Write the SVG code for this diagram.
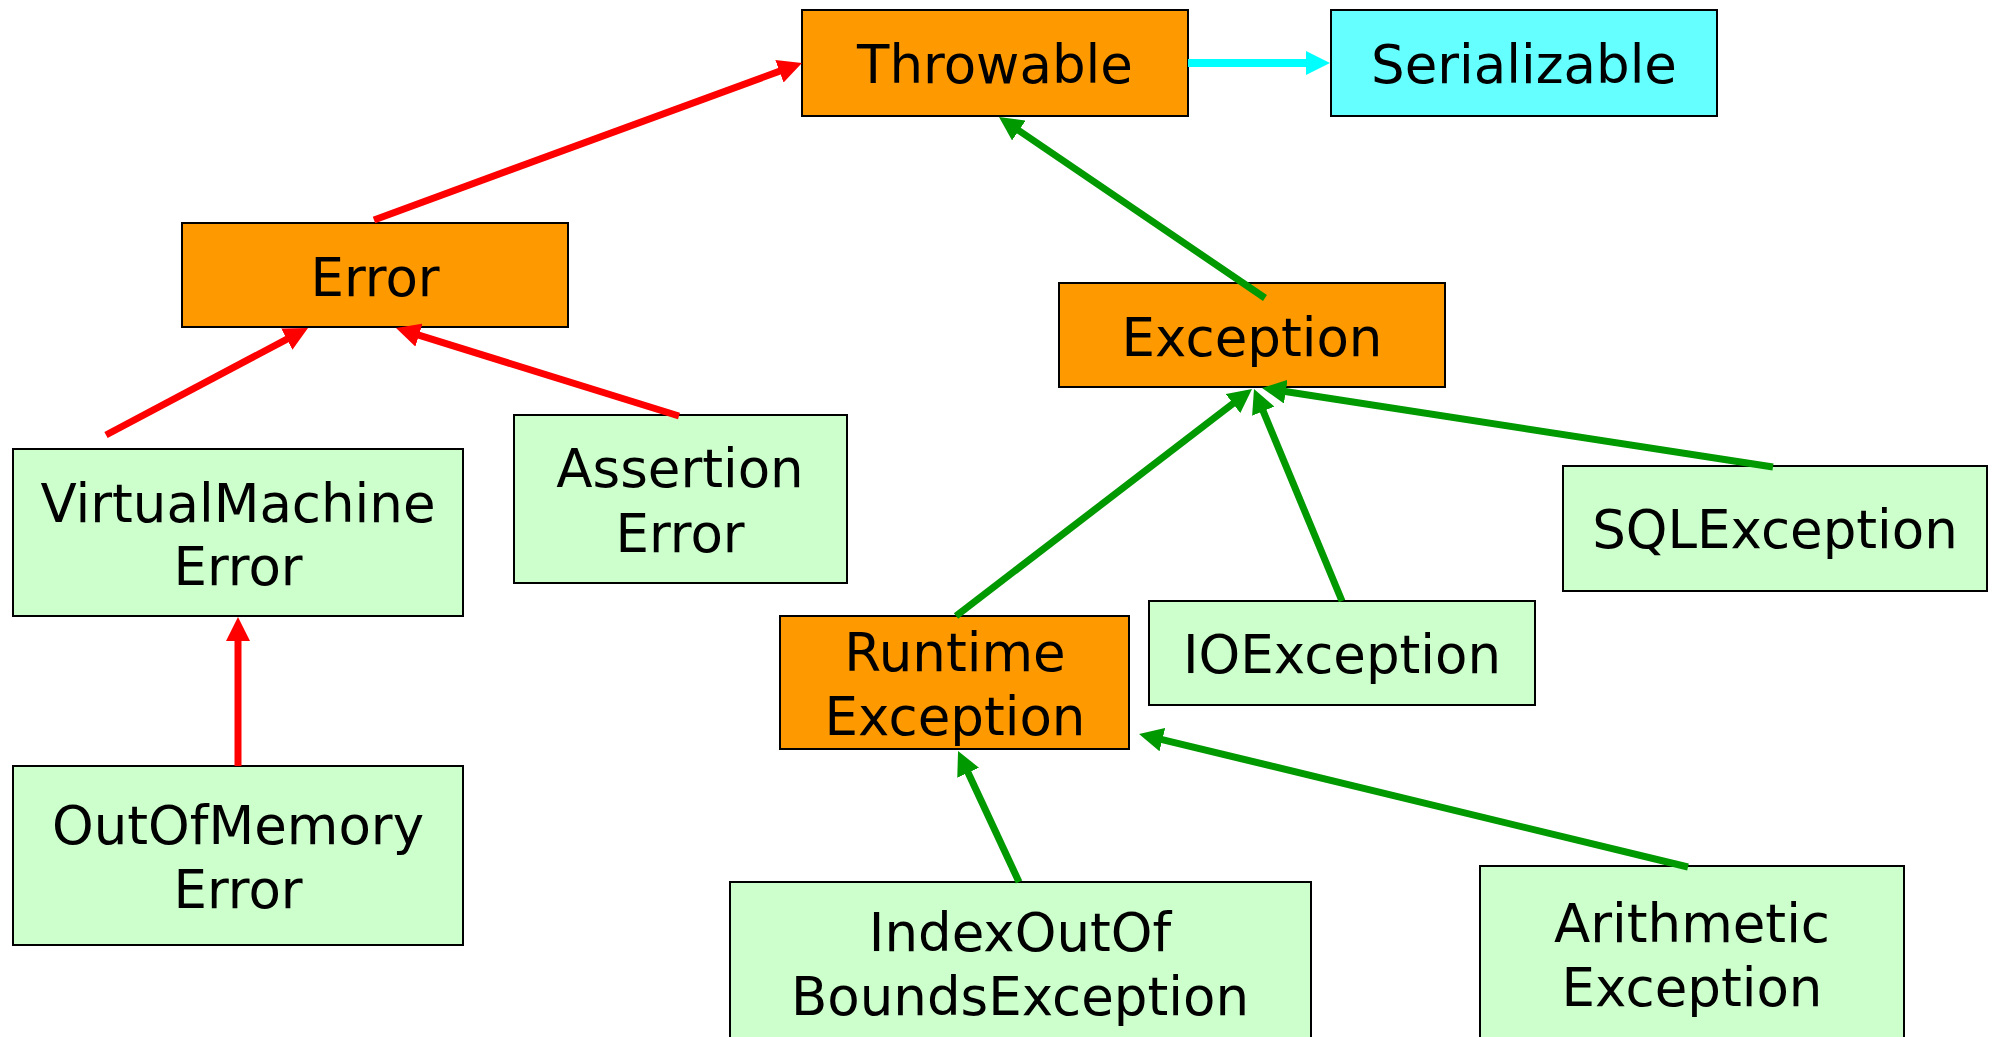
<svg xmlns="http://www.w3.org/2000/svg" width="1996" height="1037" viewBox="0 0 1996 1037">
<style>
.box{stroke:#000;stroke-width:2}
.o{fill:#FF9900}
.g{fill:#CCFFCC}
.c{fill:#66FFFF}
text{font-family:"DejaVu Sans","Verdana",sans-serif;font-size:53px;fill:#000;text-anchor:middle}
.red{stroke:#FF0000;stroke-width:7;fill:none}
.grn{stroke:#009900;stroke-width:7;fill:none}
.cyn{stroke:#00FFFF;stroke-width:8;fill:none}
</style>
<defs>
<marker id="hr" markerUnits="userSpaceOnUse" markerWidth="24" markerHeight="24" refX="12" refY="12" orient="auto" viewBox="0 0 24 24"><path d="M0,0 L24,12 L0,24 z" fill="#FF0000"/></marker>
<marker id="hg" markerUnits="userSpaceOnUse" markerWidth="24" markerHeight="24" refX="12" refY="12" orient="auto" viewBox="0 0 24 24"><path d="M0,0 L24,12 L0,24 z" fill="#009900"/></marker>
<marker id="hc" markerUnits="userSpaceOnUse" markerWidth="24" markerHeight="24" refX="12" refY="12" orient="auto" viewBox="0 0 24 24"><path d="M0,0 L24,12 L0,24 z" fill="#00FFFF"/></marker>
</defs>
<rect width="1996" height="1037" fill="#fff"/>
<g id="throwable"><rect class="box o" x="802" y="10" width="386" height="106"/><text x="995" y="83">Throwable</text></g>
<g id="serializable"><rect class="box c" x="1331" y="10" width="386" height="106"/><text x="1524" y="83">Serializable</text></g>
<g id="error"><rect class="box o" x="182" y="223" width="386" height="104"/><text x="375" y="296">Error</text></g>
<g id="virtualmachineerror"><rect class="box g" x="13" y="449" width="450" height="167"/><text x="238" y="522">VirtualMachine</text><text x="238" y="585">Error</text></g>
<g id="assertionerror"><rect class="box g" x="514" y="415" width="333" height="168"/><text x="680" y="487">Assertion</text><text x="680" y="552">Error</text></g>
<g id="outofmemoryerror"><rect class="box g" x="13" y="766" width="450" height="179"/><text x="238" y="844">OutOfMemory</text><text x="238" y="908">Error</text></g>
<g id="exception"><rect class="box o" x="1059" y="283" width="386" height="104"/><text x="1252" y="356">Exception</text></g>
<g id="sqlexception"><rect class="box g" x="1563" y="466" width="424" height="125"/><text x="1775" y="548">SQLException</text></g>
<g id="ioexception"><rect class="box g" x="1149" y="601" width="386" height="104"/><text x="1342" y="673">IOException</text></g>
<g id="runtimeexception"><rect class="box o" x="780" y="616" width="349" height="133"/><text x="955" y="671">Runtime</text><text x="955" y="735">Exception</text></g>
<g id="indexoutofboundsexception"><rect class="box g" x="730" y="882" width="581" height="170"/><text x="1020" y="951">IndexOutOf</text><text x="1020" y="1015">BoundsException</text></g>
<g id="arithmeticexception"><rect class="box g" x="1480" y="866" width="424" height="180"/><text x="1692" y="942">Arithmetic</text><text x="1692" y="1006">Exception</text></g>
<g id="connectors">
<line class="red" x1="374" y1="220" x2="790.7" y2="67.1" marker-end="url(#hr)"/>
<line class="red" x1="106" y1="435" x2="297.4" y2="333.6" marker-end="url(#hr)"/>
<line class="red" x1="679" y1="416" x2="407.5" y2="331.6" marker-end="url(#hr)"/>
<line class="red" x1="238" y1="766" x2="238" y2="629" marker-end="url(#hr)"/>
<line class="cyn" x1="1188" y1="63" x2="1318" y2="63" marker-end="url(#hc)"/>
<line class="grn" x1="1265" y1="298" x2="1008.9" y2="123.8" marker-end="url(#hg)"/>
<line class="grn" x1="956" y1="616" x2="1242.5" y2="396.3" marker-end="url(#hg)"/>
<line class="grn" x1="1342" y1="601" x2="1258.6" y2="400.1" marker-end="url(#hg)"/>
<line class="grn" x1="1773" y1="467" x2="1273.9" y2="389.8" marker-end="url(#hg)"/>
<line class="grn" x1="1019" y1="882" x2="963.1" y2="761.9" marker-end="url(#hg)"/>
<line class="grn" x1="1688" y1="867" x2="1150.7" y2="736.8" marker-end="url(#hg)"/>
</g>
</svg>
